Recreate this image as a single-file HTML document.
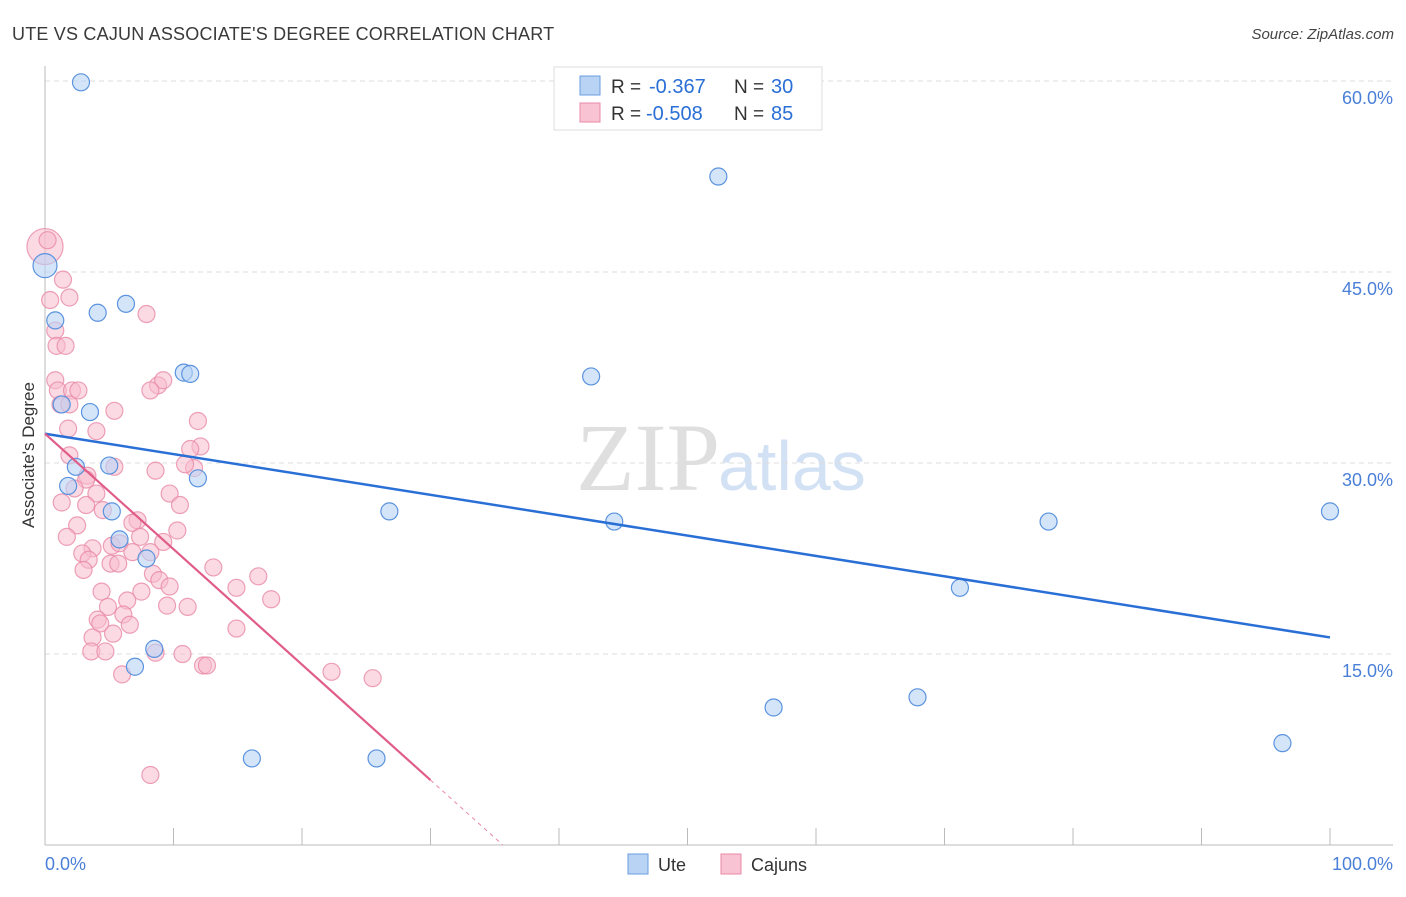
<!DOCTYPE html>
<html><head><meta charset="utf-8"><style>
body{margin:0;background:#fff;font-family:"Liberation Sans",sans-serif}
</style></head><body>
<svg id="chart" width="1406" height="892" xmlns="http://www.w3.org/2000/svg" font-family="Liberation Sans, sans-serif">
<text x="12" y="40" font-size="18" fill="#3a3a3a" letter-spacing="0.2">UTE VS CAJUN ASSOCIATE'S DEGREE CORRELATION CHART</text>
<text x="1394" y="39" font-size="15" fill="#444" font-style="italic" text-anchor="end">Source: ZipAtlas.com</text>
<text x="720" y="490" font-size="96" text-anchor="end" fill="#d8d8d8" font-family="Liberation Serif, serif" opacity="0.8">ZIP</text>
<text x="718" y="490" font-size="70" fill="#c9daf2" opacity="0.8">atlas</text>
<g id="grid"></g>
<g id="axes"></g>
<g id="marks"></g>
<text transform="translate(34,455) rotate(-90)" font-size="17" fill="#333" text-anchor="middle">Associate's Degree</text>
<g>
<rect x="554" y="67" width="268" height="63" fill="#fff" stroke="#ddd"/>
<rect x="580" y="76" width="20" height="19" fill="#b9d3f5" stroke="#6a9ee0"/>
<rect x="580" y="103" width="20" height="19" fill="#f8c4d3" stroke="#e889a6"/>
<text x="611" y="93" font-size="19" fill="#333">R =</text>
<text x="649" y="93" font-size="20" fill="#2a6fd6">-0.367</text>
<text x="734" y="93" font-size="19" fill="#333">N =</text>
<text x="771" y="93" font-size="20" fill="#2a6fd6">30</text>
<text x="611" y="120" font-size="19" fill="#333">R =</text>
<text x="646" y="120" font-size="20" fill="#2a6fd6">-0.508</text>
<text x="734" y="120" font-size="19" fill="#333">N =</text>
<text x="771" y="120" font-size="20" fill="#2a6fd6">85</text>
</g>
<g>
<rect x="628" y="854" width="20" height="20" fill="#b9d3f5" stroke="#6a9ee0"/>
<text x="658" y="871" font-size="18" fill="#333">Ute</text>
<rect x="721" y="854" width="20" height="20" fill="#f8c4d3" stroke="#e889a6"/>
<text x="751" y="871" font-size="18" fill="#333">Cajuns</text>
</g>
</svg>
<script>
const yTicks=[15,30,45,60];
const yTickLabels=["15.0%","30.0%","45.0%","60.0%"];
const xTicks=[0,10,20,30,40,50,60,70,80,90,100];
const uteX=[2.8,52.4,0,0.8,4.1,6.3,10.8,11.3,1.3,3.5,42.5,2.4,5.0,1.8,11.9,5.2,26.8,44.3,78.1,100,5.8,7.9,71.2,8.5,7.0,67.9,56.7,96.3,16.1,25.8];
const uteY=[59.9,52.5,45.5,41.2,41.8,42.5,37.1,37.0,34.6,34.0,36.8,29.7,29.8,28.2,28.8,26.2,26.2,25.4,25.4,26.2,24.0,22.5,20.2,15.4,14.0,11.6,10.8,8.0,6.8,6.8];
const cajX=[0,0.2,1.4,1.9,0.4,0.8,0.9,1.6,7.9,0.8,1.0,2.1,2.6,1.2,1.9,5.4,8.8,9.2,8.2,1.8,4.0,11.9,12.1,11.3,1.9,3.3,3.2,5.4,11.6,10.9,8.6,2.3,4.0,1.3,3.2,4.5,9.7,10.5,7.2,6.8,2.5,1.7,7.4,10.3,3.7,5.2,2.9,3.4,5.8,9.2,8.2,3.0,5.1,5.7,6.8,13.1,16.6,8.4,8.9,9.7,7.5,4.4,6.4,14.9,17.6,4.9,9.5,11.1,6.1,4.1,4.3,6.6,5.3,3.7,14.9,3.6,4.7,8.6,10.7,12.3,12.6,6.0,22.3,25.5,8.2];
const cajY=[47.0,47.5,44.4,43.0,42.8,40.4,39.2,39.2,41.7,36.5,35.7,35.7,35.7,34.6,34.6,34.1,36.1,36.5,35.7,32.7,32.5,33.3,31.3,31.1,30.6,29.0,28.7,29.7,29.6,29.9,29.4,28.0,27.6,26.9,26.7,26.3,27.6,26.7,25.5,25.3,25.1,24.2,24.2,24.7,23.3,23.5,22.9,22.4,23.7,23.8,23.0,21.6,22.1,22.1,23.0,21.8,21.1,21.3,20.8,20.3,19.9,19.9,19.2,20.2,19.3,18.7,18.8,18.7,18.1,17.7,17.4,17.3,16.6,16.3,17.0,15.2,15.2,15.1,15.0,14.1,14.1,13.4,13.6,13.1,5.5];
const uteTrend=[32.3,16.3];
const cajTrend=[32.3,5.1,30];
const NS="http://www.w3.org/2000/svg";
const X=v=>45+v*12.85, Y=v=>845-v*12.733;
function mk(t,a,p){const e=document.createElementNS(NS,t);for(const k in a)e.setAttribute(k,a[k]);p.appendChild(e);return e;}
const grid=document.getElementById('grid'),axes=document.getElementById('axes'),marks=document.getElementById('marks');
yTicks.forEach((t,i)=>{
 const l=mk('line',{x1:45,x2:1393,y1:Y(t),y2:Y(t),stroke:'#ddd','stroke-dasharray':'5,4'},grid);
 
 
 const tx=mk('text',{x:1393,y:Y(t)+23,'font-size':18,fill:'#4a7fd8','text-anchor':'end'},axes);
 tx.textContent=yTickLabels[i];
 
 
});
const ax=mk('line',{x1:45,x2:1393,y1:845,y2:845,stroke:'#bbb'},axes);


const ay=mk('line',{x1:45,x2:45,y1:66,y2:845,stroke:'#bbb'},axes);


xTicks.forEach(t=>{const l=mk('line',{x1:X(t),x2:X(t),y1:828,y2:845,stroke:'#bbb'},axes);
 
 });
[["0.0%",45,'start'],["100.0%",1393,'end']].forEach(d=>{const t=mk('text',{x:d[1],y:870,'font-size':18,fill:'#4a7fd8','text-anchor':d[2]},axes);t.textContent=d[0];
 
 });
cajX.forEach((v,i)=>{const c=mk('circle',{cx:X(v),cy:Y(cajY[i]),r:i==0?18:8.5,fill:'#f8bccd','fill-opacity':0.55,stroke:'#e889a6','stroke-opacity':0.8,'stroke-width':1.2},marks);
 
 });
uteX.forEach((v,i)=>{const c=mk('circle',{cx:X(v),cy:Y(uteY[i]),r:i==2?12:8.5,fill:'#b9d3f5','fill-opacity':0.6,stroke:'#5b93de','stroke-width':1.2},marks);
 
 });
const ul=mk('line',{x1:X(0),y1:Y(uteTrend[0]),x2:X(100),y2:Y(uteTrend[1]),stroke:'#2a6fd6','stroke-width':2.5},marks);


const slope=(cajTrend[1]-cajTrend[0])/cajTrend[2];
const cl=mk('line',{x1:X(0),y1:Y(cajTrend[0]),x2:X(cajTrend[2]),y2:Y(cajTrend[1]),stroke:'#e05d8a','stroke-width':2.2},marks);


const xz=-cajTrend[0]/slope;
const cd=mk('line',{x1:X(cajTrend[2]),y1:Y(cajTrend[1]),x2:X(xz),y2:Y(0),stroke:'#e889a6','stroke-width':1,'stroke-dasharray':'4,4'},marks);


</script>
</body></html>
